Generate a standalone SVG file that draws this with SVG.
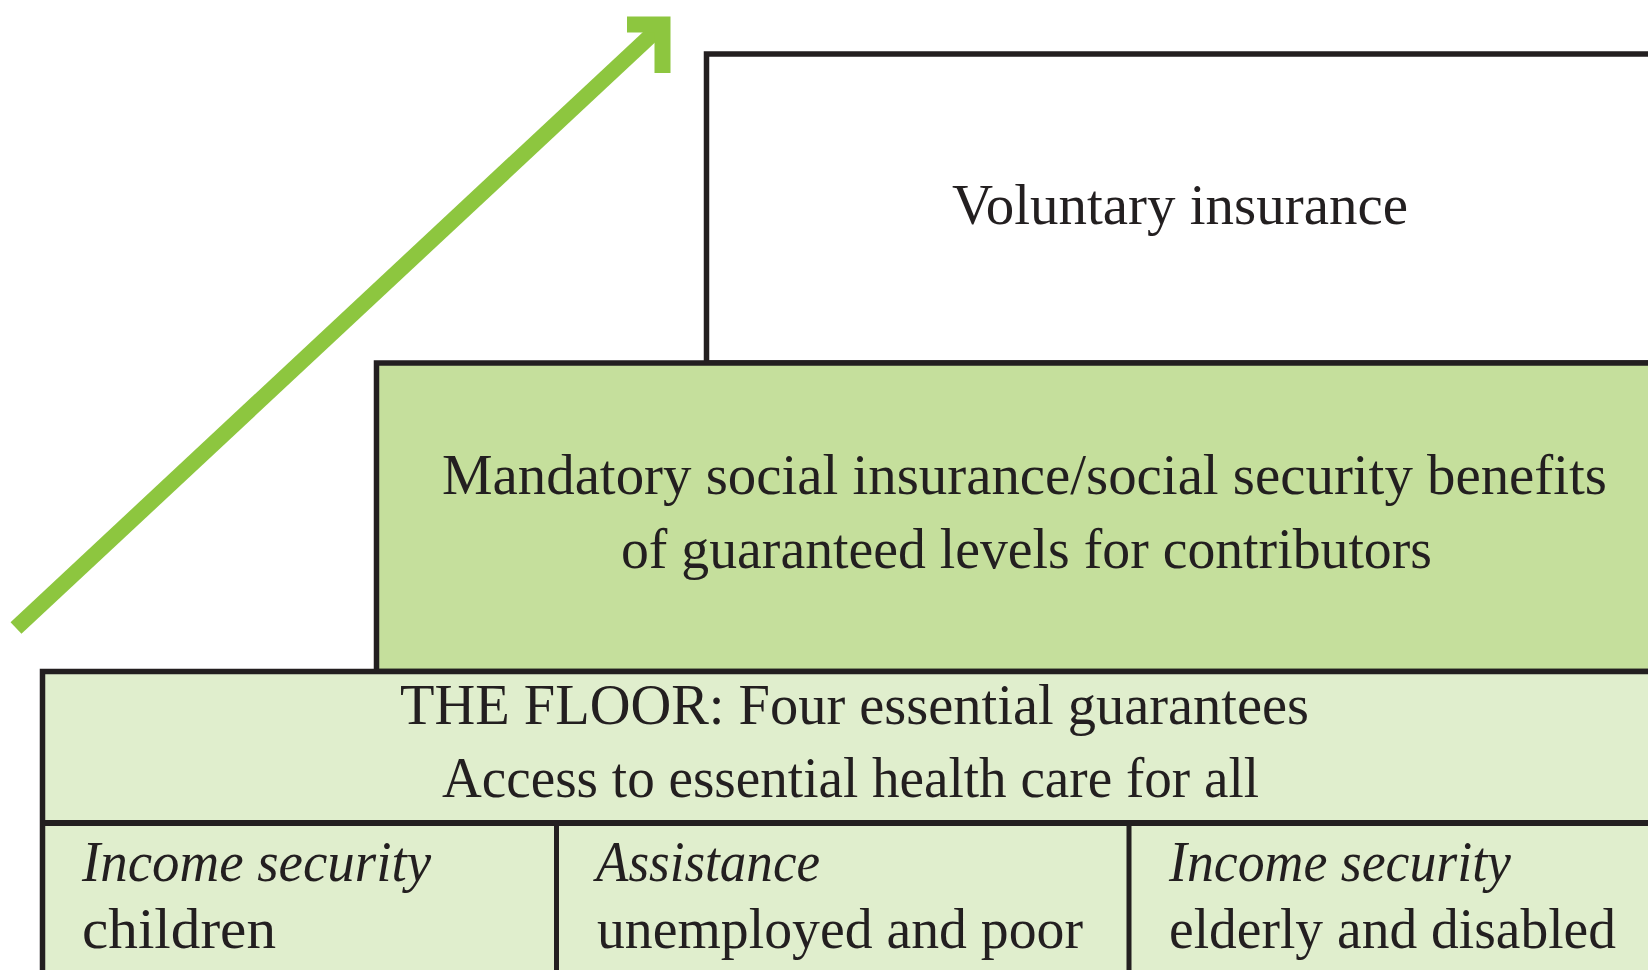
<svg xmlns="http://www.w3.org/2000/svg" width="1648" height="970" viewBox="0 0 1648 970">
  <style>
    .box { stroke: #231f20; stroke-width: 5.5; }
    .sep { stroke: #231f20; stroke-width: 5; fill: none; }
    .lbl { font-family: "Liberation Serif", "DejaVu Serif", serif; font-size: 56px; fill: #231f20; }
    .it { font-style: italic; }
    .arrow { stroke: #8dc63f; stroke-width: 16; fill: none; stroke-linecap: butt; stroke-linejoin: miter; }
  </style>
  <rect width="1648" height="970" fill="#ffffff"/>

  <g id="connectors">
    <path class="arrow" d="M 16 628 L 660 27"/>
    <polyline class="arrow" points="627,24.5 662.5,24.5 662.5,73"/>
  </g>

  <g id="voluntary">
    <rect class="box" x="706.5" y="54" width="960" height="309" fill="#ffffff"/>
    <text class="lbl" x="952" y="224" textLength="456" lengthAdjust="spacingAndGlyphs">Voluntary insurance</text>
  </g>

  <g id="mandatory">
    <rect class="box" x="376.5" y="363" width="1290" height="308.5" fill="#c5df9c"/>
    <text class="lbl" x="442" y="494" textLength="1165" lengthAdjust="spacingAndGlyphs">Mandatory social insurance/social security benefits</text>
    <text class="lbl" x="621" y="568" textLength="811" lengthAdjust="spacingAndGlyphs">of guaranteed levels for contributors</text>
  </g>

  <g id="floor">
    <rect class="box" x="42.5" y="671.5" width="1620" height="320" fill="#e0eecd"/>
    <text class="lbl" x="400" y="724" textLength="909" lengthAdjust="spacingAndGlyphs">THE FLOOR: Four essential guarantees</text>
    <text class="lbl" x="442" y="797" textLength="817" lengthAdjust="spacingAndGlyphs">Access to essential health care for all</text>
    <line class="sep" x1="42.5" y1="823" x2="1648" y2="823" style="stroke-width:6"/>
  </g>

  <g id="cell-children">
    <text class="lbl it" x="82" y="881" textLength="349" lengthAdjust="spacingAndGlyphs">Income security</text>
    <text class="lbl" x="82" y="948" textLength="194" lengthAdjust="spacingAndGlyphs">children</text>
  </g>

  <g id="cell-unemployed">
    <line class="sep" x1="556.5" y1="823" x2="556.5" y2="970"/>
    <text class="lbl it" x="596" y="881" textLength="224" lengthAdjust="spacingAndGlyphs">Assistance</text>
    <text class="lbl" x="597" y="948" textLength="486" lengthAdjust="spacingAndGlyphs">unemployed and poor</text>
  </g>

  <g id="cell-elderly">
    <line class="sep" x1="1129" y1="823" x2="1129" y2="970"/>
    <text class="lbl it" x="1169" y="881" textLength="342" lengthAdjust="spacingAndGlyphs">Income security</text>
    <text class="lbl" x="1169" y="948" textLength="447" lengthAdjust="spacingAndGlyphs">elderly and disabled</text>
  </g>
</svg>
